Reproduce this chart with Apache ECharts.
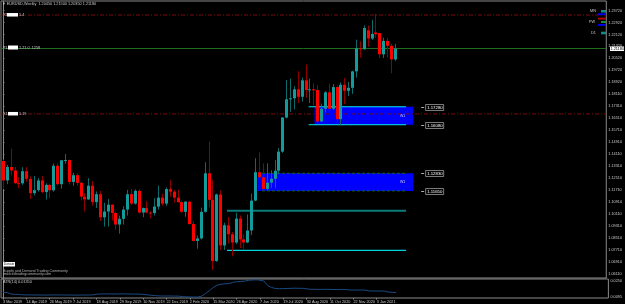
<!DOCTYPE html>
<html>
<head>
<meta charset="utf-8">
<script src="https://cdn.jsdelivr.net/npm/echarts@6/dist/echarts.min.js"></script>
<style>
  html, body { margin: 0; padding: 0; background: #000; }
  #chart { width: 625px; height: 304px; }
</style>
</head>
<body>
<div id="chart"></div>
<script>
// weekly EURUSD bars, index 0 = week of 3 Mar 2019
const opens = [
  1.1365, 1.1235, 1.1325, 1.1302, 1.1217, 1.1216, 1.1297, 1.1246, 1.1150, 1.1170,
  1.1235, 1.1157, 1.1205, 1.1169, 1.1333, 1.1210, 1.1370, 1.1372, 1.1225, 1.1270,
  1.1219, 1.1127, 1.1108, 1.1200, 1.1090, 1.1143, 1.0988, 1.1027, 1.1073, 1.1017,
  1.0940, 1.0978, 1.1040, 1.1143, 1.1080, 1.1165, 1.1020, 1.1050, 1.1020, 1.1017,
  1.1060, 1.1120, 1.1080, 1.1177, 1.1160, 1.1120, 1.1090, 1.1025, 1.1093, 1.0943,
  1.0830, 1.0847, 1.1025, 1.1283, 1.1105, 1.0696, 1.1141, 1.0800, 1.0935, 1.0875,
  1.0820, 1.0980, 1.0840, 1.0820, 1.0900, 1.1100, 1.1290, 1.1256, 1.1178, 1.1220,
  1.1246, 1.1300, 1.1428, 1.1656, 1.1778, 1.1785, 1.1845, 1.1795, 1.1905, 1.1840,
  1.1845, 1.1840, 1.1630, 1.1715, 1.1825, 1.1715, 1.1860, 1.1645, 1.1875, 1.1835,
  1.1855, 1.1965, 1.2120, 1.2113, 1.2240, 1.2185, 1.2225, 1.2221, 1.2079, 1.2169,
  1.2136, 1.2045
];
const highs = [
  1.1374, 1.1339, 1.1448, 1.1325, 1.1255, 1.1324, 1.1324, 1.1262, 1.1265, 1.1251,
  1.1264, 1.1215, 1.1213, 1.1348, 1.1348, 1.1372, 1.1412, 1.1375, 1.1286, 1.1282,
  1.1226, 1.1148, 1.1250, 1.1231, 1.1161, 1.1165, 1.1085, 1.1110, 1.1075, 1.1025,
  1.0999, 1.1063, 1.1172, 1.1179, 1.1175, 1.1176, 1.1053, 1.1097, 1.1030, 1.1116,
  1.1200, 1.1146, 1.1188, 1.1239, 1.1172, 1.1173, 1.1100, 1.1096, 1.1095, 1.0963,
  1.0865, 1.1053, 1.1357, 1.1495, 1.1236, 1.1147, 1.1168, 1.0952, 1.0990, 1.0890,
  1.1019, 1.1000, 1.0875, 1.1008, 1.1147, 1.1384, 1.1422, 1.1349, 1.1349, 1.1303,
  1.1372, 1.1452, 1.1660, 1.1908, 1.1916, 1.1866, 1.1966, 1.1923, 1.2011, 1.1917,
  1.1882, 1.1873, 1.1750, 1.1832, 1.1881, 1.1881, 1.1870, 1.1891, 1.1920, 1.1894,
  1.1970, 1.2177, 1.2167, 1.2273, 1.2272, 1.2310, 1.2349, 1.2223, 1.2190, 1.2189,
  1.2150, 1.2150
];
const lows = [
  1.1176, 1.1210, 1.1269, 1.1211, 1.1183, 1.1205, 1.1226, 1.1110, 1.1135, 1.1160,
  1.1150, 1.1107, 1.1116, 1.1160, 1.1202, 1.1180, 1.1347, 1.1208, 1.1200, 1.1200,
  1.1101, 1.1027, 1.1105, 1.1066, 1.1051, 1.0963, 1.0926, 1.0927, 1.0967, 1.0905,
  1.0879, 1.0940, 1.1000, 1.1071, 1.1073, 1.1013, 1.0989, 1.1015, 1.0981, 1.1000,
  1.1040, 1.1066, 1.1065, 1.1125, 1.1085, 1.1086, 1.1018, 1.0992, 1.0940, 1.0827,
  1.0778, 1.0840, 1.1020, 1.1055, 1.0636, 1.0690, 1.0768, 1.0770, 1.0812, 1.0727,
  1.0810, 1.0782, 1.0775, 1.0815, 1.0870, 1.1095, 1.1240, 1.1168, 1.1170, 1.1185,
  1.1185, 1.1280, 1.1420, 1.1650, 1.1695, 1.1710, 1.1753, 1.1763, 1.1789, 1.1753,
  1.1737, 1.1612, 1.1626, 1.1690, 1.1689, 1.1705, 1.1622, 1.1603, 1.1745, 1.1800,
  1.1814, 1.1923, 1.2058, 1.2110, 1.2129, 1.2175, 1.2190, 1.2054, 1.2054, 1.2058,
  1.1952, 1.2035
];
const closes = [
  1.1235, 1.1325, 1.1302, 1.1217, 1.1216, 1.1297, 1.1246, 1.1150, 1.1170, 1.1235,
  1.1157, 1.1205, 1.1169, 1.1333, 1.1210, 1.1370, 1.1372, 1.1225, 1.1270, 1.1219,
  1.1127, 1.1108, 1.1200, 1.1090, 1.1143, 1.0988, 1.1027, 1.1073, 1.1017, 1.0940,
  1.0978, 1.1040, 1.1143, 1.1080, 1.1165, 1.1020, 1.1050, 1.1020, 1.1017, 1.1060,
  1.1120, 1.1080, 1.1177, 1.1160, 1.1120, 1.1090, 1.1025, 1.1093, 1.0943, 1.0830,
  1.0847, 1.1025, 1.1283, 1.1105, 1.0696, 1.1141, 1.0800, 1.0935, 1.0875, 1.0820,
  1.0980, 1.0840, 1.0820, 1.0900, 1.1100, 1.1290, 1.1256, 1.1178, 1.1220, 1.1246,
  1.1300, 1.1428, 1.1656, 1.1778, 1.1785, 1.1845, 1.1795, 1.1905, 1.1840, 1.1845,
  1.1840, 1.1630, 1.1715, 1.1825, 1.1715, 1.1860, 1.1645, 1.1875, 1.1835, 1.1855,
  1.1965, 1.2120, 1.2113, 1.2255, 1.2185, 1.2216, 1.2214, 1.2079, 1.2169, 1.2136,
  1.2045, 1.2118
];
const atr14 = [
  0.0137, 0.0135, 0.0120, 0.0117, 0.0116,
  0.0112, 0.0111, 0.0111, 0.0110, 0.0110, 0.0110, 0.0109, 0.0110, 0.0111, 0.0110,
  0.0111, 0.0110, 0.0110, 0.0109, 0.0109, 0.0110, 0.0110, 0.0110, 0.0111,
  0.0118, 0.0120, 0.0121, 0.0121, 0.0120, 0.0120, 0.0121, 0.0121, 0.0120, 0.0120, 0.0119, 0.0119,
  0.0116, 0.0112, 0.0108, 0.0104,
  0.0101, 0.0100, 0.0100, 0.0100, 0.0099, 0.0099,
  0.0094, 0.0092, 0.0091, 0.0090, 0.0090,
  0.0098, 0.0125, 0.0152, 0.0185,
  0.0208, 0.0218, 0.0222, 0.0224,
  0.0236, 0.0243, 0.0245, 0.0248,
  0.0256, 0.0260, 0.0262, 0.0258,
  0.0250, 0.0205, 0.0185,
  0.0175, 0.0173, 0.0174, 0.0175,
  0.0177, 0.0178, 0.0177, 0.0177, 0.0172,
  0.0167, 0.0167, 0.0166, 0.0166, 0.0167, 0.0166, 0.0165, 0.0165, 0.0166, 0.0165,
  0.0160, 0.0160, 0.0159, 0.0160, 0.0159,
  0.0151, 0.0150, 0.0150, 0.0150, 0.0149,
  0.0140, 0.0136, 0.0135
];

// right price scale labels
const priceTicks = [
  1.2372, 1.2292, 1.2212, 1.2132, 1.2052, 1.1972, 1.1892, 1.1811, 1.1731, 1.1651,
  1.1571, 1.1491, 1.1411, 1.1331, 1.1251, 1.1171, 1.1091, 1.1011, 1.0931, 1.0851,
  1.0771, 1.0691, 1.0611
];
const atrTicks = [0.0250, 0.0095];
const dateTickIdx = [0, 6, 12, 18, 24, 30, 36, 42, 48, 54, 60, 66, 72, 78, 84, 90, 96];
const dateTickLabels = [
  '3 Mar 2019', '14 Apr 2019', '26 May 2019', '7 Jul 2019', '18 Aug 2019', '29 Sep 2019',
  '10 Nov 2019', '22 Dec 2019', '2 Feb 2020', '15 Mar 2020', '26 Apr 2020', '7 Jun 2020',
  '19 Jul 2020', '30 Aug 2020', '11 Oct 2020', '22 Nov 2020', '3 Jan 2021'
];

// supply / demand zones
const zoneTops = [1.1728, 1.1283];
const zoneBottoms = [1.1608, 1.1165];
const zoneStart = [80.3, 65.7];
const zoneEnd = [105.7, 105.7];
const zoneTags = ['W1', 'W1'];
const zoneEdgeStart = [78.8, 66.8];
const edgeEnd = 103.9;

// other horizontal levels
const pivotLevels = [1.2342, 1.1680];
const tealLevel = 1.1032;
const cyanLevel = 1.0767;
const levelLineStart = 57.75;

const nSlots = 156;
const FONT = 'Liberation Sans';
const AXIS_FS = 3.8;
const bodyUp = '#139a9a', bodyDn = '#ff0000', wickUp = '#0b6a6a', wickDn = '#8e0000';

const candleData = opens.map((o, i) => [i, o, closes[i], lows[i], highs[i]]);
const atrData = atr14.map((v, i) => [i, v]);

function renderCandle(params, api) {
  const i = api.value(0), o = api.value(1), c = api.value(2), l = api.value(3), h = api.value(4);
  const pO = api.coord([i, o]), pC = api.coord([i, c]);
  const pL = api.coord([i, l]), pH = api.coord([i, h]);
  const up = c >= o;
  const cx = Math.round(pO[0]);
  const top = Math.min(pO[1], pC[1]);
  const bh = Math.max(Math.abs(pO[1] - pC[1]), 1);
  return {
    type: 'group',
    children: [
      { type: 'line', shape: { x1: cx + 0.5, y1: pH[1], x2: cx + 0.5, y2: pL[1] },
        style: { stroke: up ? wickUp : wickDn, lineWidth: 1 } },
      { type: 'rect', shape: { x: cx - 1, y: top, width: 3, height: bh },
        style: { fill: up ? bodyUp : bodyDn } }
    ]
  };
}

function renderZone(params, api) {
  const a = api.coord([api.value(0), api.value(2)]);
  const b = api.coord([api.value(1), api.value(3)]);
  return {
    type: 'group',
    children: [
      { type: 'rect', shape: { x: a[0], y: a[1], width: b[0] - a[0], height: b[1] - a[1] },
        style: { fill: '#0000ff' } },
      { type: 'text', x: b[0] - 13, y: (a[1] + b[1]) / 2,
        style: { text: zoneTags[params.dataIndex], fill: '#d8d8ff', font: '3.5px ' + FONT, verticalAlign: 'middle' } }
    ]
  };
}

function renderLevelTag(params, api) {
  const p = api.coord([api.value(0), api.value(1)]);
  const y = Math.round(p[1]) + 0.5;
  return {
    type: 'group',
    children: [
      { type: 'line', shape: { x1: p[0] - 2, y1: y, x2: p[0] + 1, y2: y }, style: { stroke: '#aaaaaa', lineWidth: 1 } },
      { type: 'rect', shape: { x: p[0] + 2.5, y: y - 3, width: 18, height: 6 },
        style: { fill: '#000', stroke: '#9a9a9a', lineWidth: 0.8 } },
      { type: 'text', x: p[0] + 4, y: y + 0.3,
        style: { text: api.value(1).toFixed(5), fill: '#ffffff', font: '4.3px ' + FONT, verticalAlign: 'middle' } }
    ]
  };
}

function hLine(x0, x1, y, color, width, type) {
  return {
    type: 'line', xAxisIndex: 0, yAxisIndex: 0, data: [[x0, y], [x1, y]],
    symbol: 'none', silent: true, animation: false, z: 3,
    lineStyle: { color: color, width: width, type: type || 'solid' }
  };
}

const series = [
  { type: 'custom', xAxisIndex: 0, yAxisIndex: 0, renderItem: renderZone, z: 1, silent: true,
    data: zoneTops.map((t, k) => [zoneStart[k], zoneEnd[k], t, zoneBottoms[k]]) },
  hLine(zoneEdgeStart[0], edgeEnd, zoneTops[0], '#00e8f0', 1),
  hLine(zoneEdgeStart[0], edgeEnd, zoneBottoms[0], '#00e8f0', 1),
  hLine(zoneEdgeStart[1], edgeEnd, zoneTops[1], '#0c6a12', 1, [3, 2]),
  hLine(zoneEdgeStart[1], edgeEnd, zoneBottoms[1], '#0c6a12', 1, [3, 2]),
  hLine(levelLineStart, edgeEnd, tealLevel, '#0a7a7a', 2),
  hLine(levelLineStart, edgeEnd, cyanLevel, '#00d2dc', 1.2),
  hLine(-0.5, nSlots - 0.5, pivotLevels[0], '#7a0a0a', 1, [4, 2, 1, 2]),
  hLine(-0.5, nSlots - 0.5, pivotLevels[1], '#7a0a0a', 1, [4, 2, 1, 2]),
  hLine(-0.5, nSlots - 0.5, closes[closes.length - 1], '#1e6e1e', 1),
  { type: 'custom', xAxisIndex: 0, yAxisIndex: 0, renderItem: renderCandle, z: 5,
    data: candleData, silent: true, animation: false },
  { type: 'custom', xAxisIndex: 0, yAxisIndex: 0, renderItem: renderLevelTag, z: 6, silent: true,
    data: [[108.3, zoneTops[0]], [108.3, zoneBottoms[0]], [108.3, zoneTops[1]], [108.3, zoneBottoms[1]]] },
  { type: 'line', xAxisIndex: 1, yAxisIndex: 1, data: atrData, symbol: 'none', silent: true,
    animation: false, lineStyle: { color: '#1a4a82', width: 1 } }
];

const option = {
  backgroundColor: '#000000',
  animation: false,
  grid: [
    { left: 1, right: 16, top: 1, height: 277, show: true, borderColor: '#8a8a8a', borderWidth: 1, backgroundColor: 'transparent' },
    { left: 1, right: 16, top: 279, height: 19, show: true, borderColor: '#8a8a8a', borderWidth: 1, backgroundColor: 'transparent' }
  ],
  xAxis: [
    { type: 'value', gridIndex: 0, min: -0.5, max: nSlots - 0.5,
      axisLine: { show: false }, axisTick: { show: false }, axisLabel: { show: false }, splitLine: { show: false } },
    { type: 'value', gridIndex: 1, min: -0.5, max: nSlots - 0.5,
      axisLine: { show: false }, splitLine: { show: false },
      axisTick: { show: true, customValues: dateTickIdx, length: 1.5, lineStyle: { color: '#8a8a8a' } },
      axisLabel: {
        show: true, customValues: dateTickIdx, margin: 1.5, align: 'left',
        fontSize: AXIS_FS, fontFamily: FONT, color: '#c8c8c8',
        formatter: v => dateTickLabels[dateTickIdx.indexOf(Math.round(v))] || ''
      } }
  ],
  yAxis: [
    { type: 'value', gridIndex: 0, position: 'right', min: 1.0582, max: 1.2436,
      splitLine: { show: false },
      axisLine: { show: true, lineStyle: { color: '#8a8a8a' } },
      axisTick: { show: true, customValues: priceTicks, length: 1.5, lineStyle: { color: '#8a8a8a' } },
      axisLabel: { show: true, customValues: priceTicks, margin: 2, fontSize: AXIS_FS, fontFamily: FONT,
        color: '#c8c8c8', formatter: v => v.toFixed(5) } },
    { type: 'value', gridIndex: 1, position: 'right', min: 0.008, max: 0.027,
      splitLine: { show: false },
      axisLine: { show: true, lineStyle: { color: '#8a8a8a' } },
      axisTick: { show: false },
      axisLabel: { show: true, customValues: atrTicks, margin: 2, fontSize: AXIS_FS, fontFamily: FONT,
        color: '#c8c8c8', formatter: v => v.toFixed(4) } }
  ],
  series: series
};

const chart = echarts.init(document.getElementById('chart'), null, { renderer: 'canvas' });
chart.setOption(option);

// overlay text that MT4 draws on the chart, anchored through the axes where it belongs to a level
const lastClose = closes[closes.length - 1];
const yPrice = chart.convertToPixel({ yAxisIndex: 0 }, lastClose);
const yR = chart.convertToPixel({ yAxisIndex: 0 }, pivotLevels[0]);
const yS = chart.convertToPixel({ yAxisIndex: 0 }, pivotLevels[1]);
const txt = (x, y, s, fill, size) => ({ type: 'text', x: x, y: y, silent: true, z: 100,
  style: { text: s, fill: fill || '#c8c8c8', font: (size || AXIS_FS) + 'px ' + FONT, verticalAlign: 'middle' } });
const box = (x, y, w, h, fill) => ({ type: 'rect', silent: true, z: 100, shape: { x: x, y: y, width: w, height: h }, style: { fill: fill } });

chart.setOption({
  graphic: [
    txt(2, 4, '\u25BC EURUSD,Weekly  1.20450 1.21500 1.20350 1.21180'),
    // labels on the pivot lines
    txt(3, yR, 'R1'), box(7, yR - 2, 11, 3.5, '#ffffff'), txt(19, yR, '1.4'),
    txt(3, yPrice - 1, 'P1'), box(8, yPrice - 3, 10, 4, '#ffffff'), txt(19, yPrice - 1, '1.21.0 .1258'),
    txt(3, yS, 'S1'), box(8, yS - 2, 10, 3.5, '#ffffff'), txt(19, yS, '1.19'),
    // current price on the scale
    box(610, yPrice - 2, 14, 4.5, '#ffffff'), txt(610.5, yPrice + 0.3, lastClose.toFixed(5), '#000000', 3.8),
    // timeframe panel
    txt(590, 11, 'MN'), box(601, 10, 5, 2.5, '#0e8c8c'), box(598, 13.3, 8, 1.8, '#0000ff'),
    box(598, 17.7, 8, 1.8, '#c00000'),
    txt(589, 22.3, 'PW'), box(601, 21, 5, 2, '#1c8c3a'), box(598, 24, 8, 1.8, '#0000ff'),
    txt(591, 33, 'D1'), box(601, 31.7, 5, 2.6, '#0e8c8c'),
    // footer text
    box(3, 262, 12, 4.5, '#ffffff'), txt(3.8, 264.3, 'Donate', '#222222', 3.3),
    txt(3, 270.5, 'Supply and Demand Trading Community', '#b0b0b0', 3.6),
    txt(3, 274.3, 'www.sdtradingcommunity.com', '#b0b0b0', 3.6),
    txt(3, 282, 'ATR(14) 0.01350', '#c8c8c8', 3.8)
  ]
});
</script>
</body>
</html>
